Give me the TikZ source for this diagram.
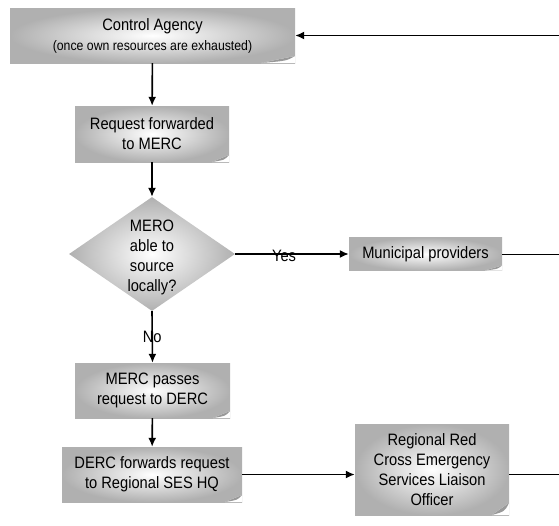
\documentclass[tikz,border=0pt]{standalone}
\usepackage{fontspec}
\setmainfont{Liberation Sans}[FakeStretch=0.89]
\usetikzlibrary{shapes.geometric,arrows.meta}

\tikzset{
  box/.style={shade,inner color=white,outer color=gray!62,align=center,inner sep=0pt,
    font=\fontsize{16.5}{20}\selectfont},
  curl/.style 2 args={path picture={
    \fill[white] ([xshift=-#1pt]path picture bounding box.south east)
      -- (path picture bounding box.south east)
      -- ([yshift=#2pt]path picture bounding box.south east) -- cycle;
    \fill[gray!80] ([xshift=-#1pt]path picture bounding box.south east)
      -- ([yshift=#2pt]path picture bounding box.south east)
      .. controls ([xshift=-0.25*#1pt,yshift=0.3*#2pt]path picture bounding box.south east)
      .. cycle;
  }},
  arr/.style={line width=1.6pt,-{Latex[length=9pt,width=8pt]}},
  exit/.style={line width=0.8pt},
}

\begin{document}
\begin{tikzpicture}[x=1pt,y=-1pt]
        \useasboundingbox (0,0) rectangle (559,525);
        %% Boxes
        \node[box,curl={34}{7},minimum width=285pt,minimum height=55pt] (agency) at (152.5,35.5)
          {Control Agency\\{\fontsize{13.8}{20}\selectfont (once own resources are exhausted)}};
        \node[box,curl={17}{7},minimum width=154pt,minimum height=56pt] (request) at (152,134)
          {Request forwarded\\to MERC};
        \node[diamond,shade,inner color=white,outer color=gray!62,inner sep=0pt,
          minimum width=166pt,minimum height=114pt] (mero) at (152,254) {};
        \node[align=center,font=\fontsize{16.5}{20}\selectfont] (merotext) at (152,257)
          {MERO\\able to\\source\\locally?};
        \node[box,curl={17}{5},minimum width=153pt,minimum height=33pt] (municipal) at (425.5,254)
          {Municipal providers};
        \node[box,curl={17}{7},minimum width=155pt,minimum height=55pt] (passes) at (152.5,390.5)
          {MERC passes\\request to DERC};
        \node[box,curl={17}{7},minimum width=180pt,minimum height=55pt] (forwards) at (152,474.5)
          {DERC forwards request\\to Regional SES HQ};
        \node[box,curl={17}{12},minimum width=154pt,minimum height=91pt] (liaison) at (432,469.5)
          {Regional Red\\Cross Emergency\\Services Liaison\\Officer};
        %% Loose ends on the right
        \coordinate (backin) at (559,35.5);
        \coordinate (rightedge) at (559,254);
        %% Connectors
        \draw[arr] (backin) -- (agency);
        \draw[arr] (agency) -- (request);
        \draw[arr] (request) -- (mero);
        \draw[arr] (mero.east) -- (municipal.west) node[pos=0.43,yshift=-2pt,font=\fontsize{16.5}{20}\selectfont] (yes) {Yes};
        \draw[exit] (municipal.east) -- (municipal.east -| rightedge);
        \draw[arr] (mero.south) -- (passes.north) node[pos=0.5,font=\fontsize{16.5}{20}\selectfont] (no) {No};
        \draw[arr] (passes) -- (forwards);
        \draw[arr] (forwards.east) -- (forwards.east -| liaison.west);
        \draw[exit] (liaison.east |- forwards.east) -- (forwards.east -| rightedge);
    \end{tikzpicture}
\end{document}
